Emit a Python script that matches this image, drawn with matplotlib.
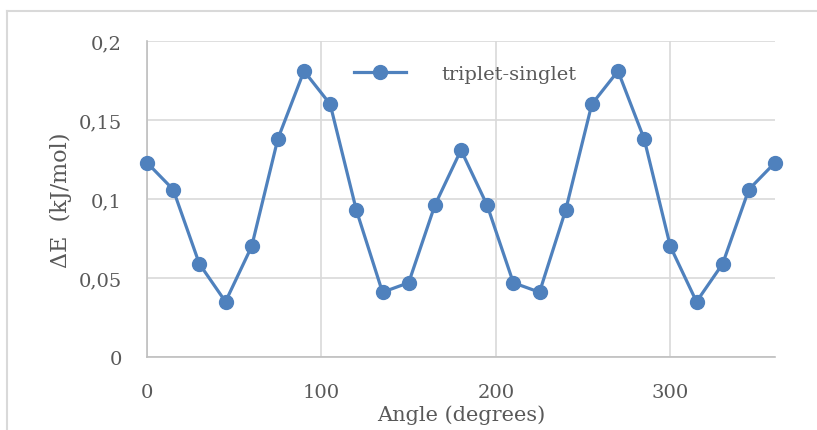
import matplotlib
matplotlib.use('Agg')
import matplotlib.pyplot as plt
from matplotlib.lines import Line2D
from matplotlib.ticker import FuncFormatter

# Data
angle = [0, 15, 30, 45, 60, 75, 90, 105, 120, 135, 150, 165, 180,
         195, 210, 225, 240, 255, 270, 285, 300, 315, 330, 345, 360]
delta_e = [0.123, 0.106, 0.059, 0.035, 0.070, 0.138, 0.181, 0.160, 0.093,
           0.041, 0.047, 0.096, 0.131, 0.096, 0.047, 0.041, 0.093, 0.160,
           0.181, 0.138, 0.070, 0.035, 0.059, 0.106, 0.123]
x_ticks = [0, 100, 200, 300]
y_ticks = [0, 0.05, 0.1, 0.15, 0.2]
series_name = 'triplet-singlet'

plt.rcParams['font.family'] = ['DejaVu Serif']
text_col = '#595959'
blue = '#4f81bd'

fig = plt.figure(figsize=(8.17, 4.31), dpi=100, facecolor='white')
ax = fig.add_axes([147 / 817, 73 / 431, 628 / 817, 316 / 431])

ax.plot(angle, delta_e, color=blue, linewidth=2.3, marker='o',
        markersize=10, label=series_name, clip_on=False, zorder=3)

ax.set_xlim(0, 360)
ax.set_ylim(0, 0.2)
ax.set_xticks(x_ticks)
ax.set_yticks(y_ticks)
ax.yaxis.set_major_formatter(FuncFormatter(lambda v, p: ('%g' % v).replace('.', ',')))

ax.grid(True, color='#d9d9d9', linewidth=1.2)
ax.set_axisbelow(True)
for s in ['top', 'right']:
    ax.spines[s].set_visible(False)
ax.spines['left'].set_color('#bfbfbf')
ax.spines['bottom'].set_color('#bfbfbf')
ax.spines['left'].set_linewidth(1.2)
ax.spines['bottom'].set_linewidth(1.2)
ax.tick_params(axis='both', length=0, labelsize=14, colors=text_col)
ax.tick_params(axis='x', pad=19)
ax.tick_params(axis='y', pad=18)

ax.set_xlabel('Angle (degrees)', fontsize=15, color=text_col, labelpad=2)
ax.set_ylabel('ΔE  (kJ/mol)', fontsize=16, color=text_col, labelpad=5)

ax.legend(loc='center left', bbox_to_anchor=(336 / 817, 1 - 75 / 431),
          bbox_transform=fig.transFigure, frameon=False, fontsize=14,
          handlelength=2.7, handletextpad=1.8, labelcolor=text_col)

# outer chart frame (left and top edges visible)
fig.add_artist(Line2D([7 / 817, 7 / 817], [0, 1 - 12 / 431], color='#d9d9d9',
                      linewidth=1.5, transform=fig.transFigure))
fig.add_artist(Line2D([7 / 817, 1], [1 - 12 / 431, 1 - 12 / 431], color='#d9d9d9',
                      linewidth=1.5, transform=fig.transFigure))

plt.savefig('out.png', dpi=100)
